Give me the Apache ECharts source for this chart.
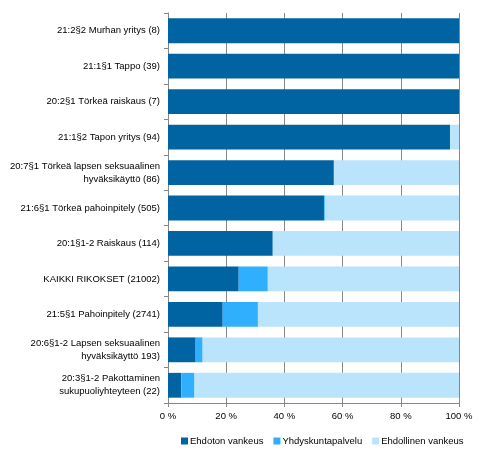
<!DOCTYPE html>
<html>
<head>
<meta charset="utf-8">
<script src="https://cdn.jsdelivr.net/npm/echarts@6/dist/echarts.min.js"></script>
<style>
  html, body { margin: 0; padding: 0; background: #fff; }
  #chart { width: 486px; height: 457px; }
</style>
</head>
<body>
<div id="chart"></div>
<script>
var categories = [
  '21:2§2 Murhan yritys (8)',
  '21:1§1 Tappo (39)',
  '20:2§1 Törkeä raiskaus (7)',
  '21:1§2 Tapon yritys (94)',
  '20:7§1 Törkeä lapsen seksuaalinen\nhyväksikäyttö (86)',
  '21:6§1 Törkeä pahoinpitely (505)',
  '20:1§1-2 Raiskaus (114)',
  'KAIKKI RIKOKSET (21002)',
  '21:5§1 Pahoinpitely (2741)',
  '20:6§1-2 Lapsen seksuaalinen\nhyväksikäyttö 193)',
  '20:3§1-2 Pakottaminen\nsukupuoliyhteyteen (22)'
];
var ehdoton = [100, 100, 100, 96.9, 57.0, 53.6, 36.0, 24.3, 18.8, 9.5, 4.6];
var yhdyskunta = [0, 0, 0, 0, 0, 0.3, 0, 10.0, 12.1, 2.4, 4.5];
var ehdollinen = [0, 0, 0, 3.1, 43.0, 46.1, 64.0, 65.7, 69.1, 88.1, 90.9];
var seriesNames = ['Ehdoton vankeus', 'Yhdyskuntapalvelu', 'Ehdollinen vankeus'];
var xTicks = [0, 20, 40, 60, 80, 100];

var font = 'Liberation Sans, Arial, sans-serif';
var gray = '#878787';

var chart = echarts.init(document.getElementById('chart'), null, { renderer: 'canvas' });

function bar(name, data, color) {
  return {
    name: name,
    type: 'bar',
    stack: 'total',
    data: data,
    barCategoryGap: '30%',
    itemStyle: { color: color },
    emphasis: { disabled: true }
  };
}

chart.setOption({
  animation: false,
  grid: { left: 168, right: 27, top: 13, bottom: 54, containLabel: false },
  legend: {
    data: seriesNames,
    top: 431,
    left: 176,
    width: 310,
    padding: 5,
    itemWidth: 7,
    itemHeight: 7,
    itemGap: 10,
    icon: 'rect',
    textStyle: { color: '#000', fontFamily: font, fontSize: 9.5, padding: [0, 0, 0, -3] }
  },
  xAxis: {
    type: 'value',
    min: 0,
    max: 100,
    interval: 20,
    axisLabel: {
      color: '#000',
      fontFamily: font,
      fontSize: 9.5,
      margin: 8,
      formatter: function (v) { return xTicks.indexOf(v) >= 0 ? v + ' %' : ''; }
    },
    axisLine: { show: true, lineStyle: { color: gray } },
    axisTick: { show: true, length: 4, lineStyle: { color: gray } },
    splitLine: { show: true, lineStyle: { color: gray, width: 1 } }
  },
  yAxis: {
    type: 'category',
    inverse: true,
    data: categories,
    axisLabel: {
      color: '#000',
      fontFamily: font,
      fontSize: 9.5,
      margin: 8,
      lineHeight: 13,
      align: 'right'
    },
    axisLine: { show: true, lineStyle: { color: gray } },
    axisTick: { show: true, length: 4, alignWithLabel: false, lineStyle: { color: gray } },
    splitLine: { show: false }
  },
  series: [
    bar(seriesNames[0], ehdoton, '#0064A2'),
    bar(seriesNames[1], yhdyskunta, '#31AFFF'),
    bar(seriesNames[2], ehdollinen, '#BAE4FC')
  ]
});
</script>
</body>
</html>
